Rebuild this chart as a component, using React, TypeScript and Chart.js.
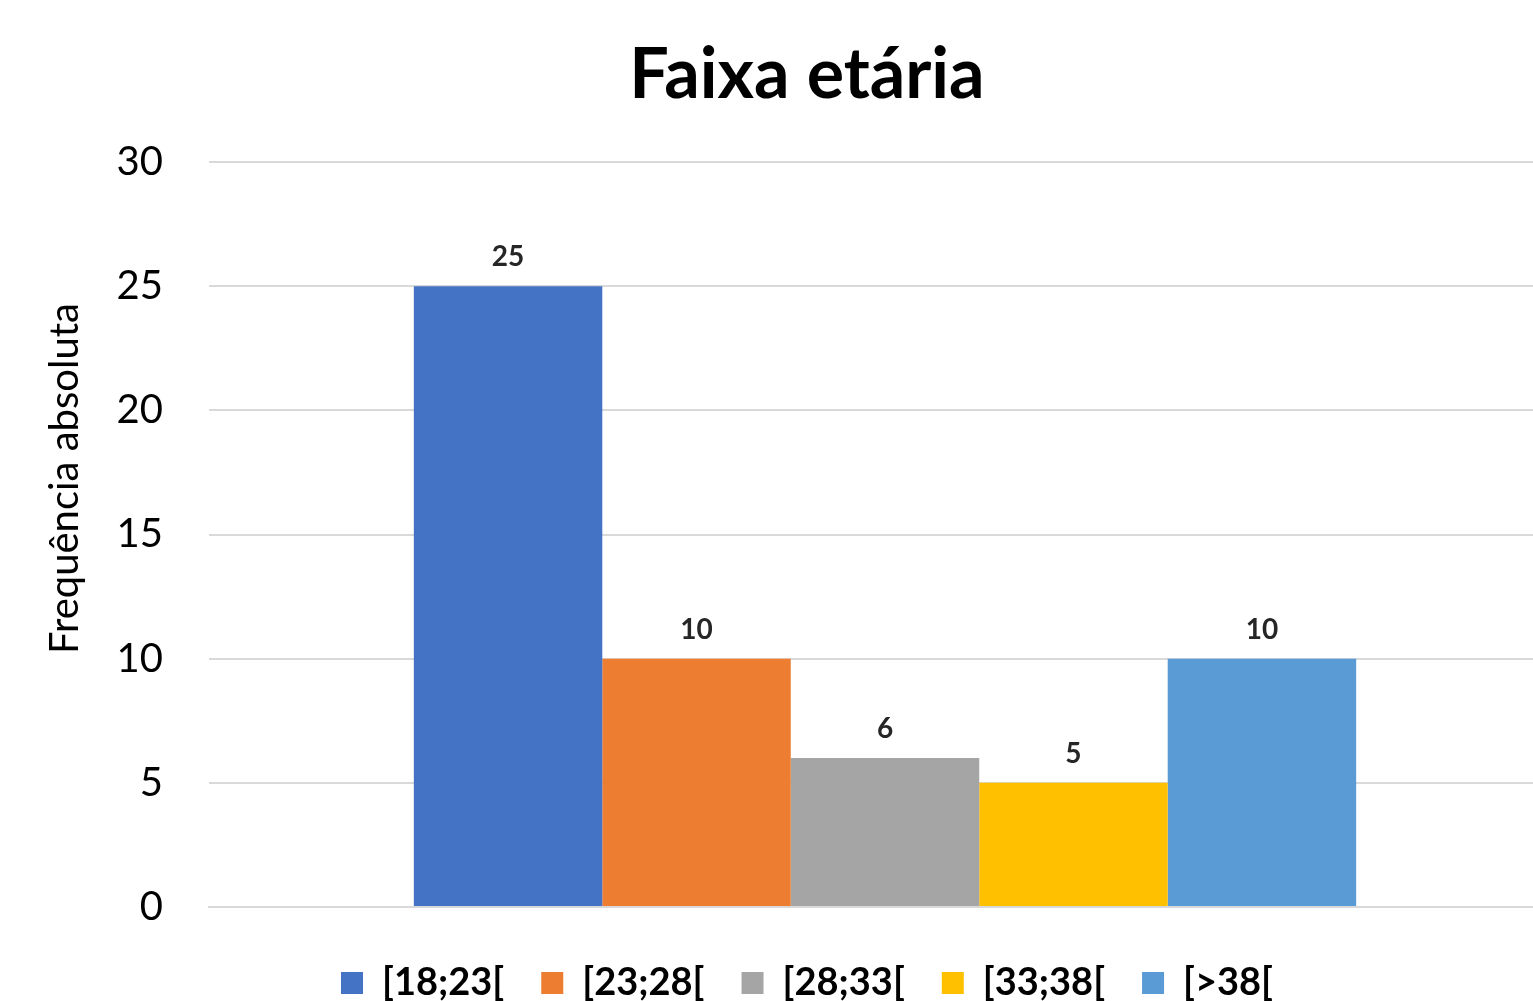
import React, { useEffect, useRef } from "react";
import { Chart, registerables } from "chart.js";

Chart.register(...registerables);

const categories = [""];
const seriesNames = ["[18;23[", "[23;28[", "[28;33[", "[33;38[", "[>38["];
const seriesValues = [25, 10, 6, 5, 10];
const seriesColors = ["#4472C4", "#ED7D31", "#A5A5A5", "#FFC000", "#5B9BD5"];
const yTicks = [0, 5, 10, 15, 20, 25, 30];
const chartTitle = "Faixa etária";
const yAxisTitle = "Frequência absoluta";

const FONT = "Lato, 'Open Sans', sans-serif";

const dataLabelPlugin = {
  id: "dataLabels",
  afterDatasetsDraw(chart: any) {
    const ctx = chart.ctx;
    ctx.save();
    ctx.font = `bold 28px ${FONT}`;
    ctx.fillStyle = "#262626";
    ctx.textAlign = "center";
    ctx.textBaseline = "alphabetic";
    chart.data.datasets.forEach((ds: any, i: number) => {
      const meta = chart.getDatasetMeta(i);
      meta.data.forEach((bar: any, j: number) => {
        ctx.fillText(String(ds.data[j]), bar.x, bar.y - 20);
      });
    });
    ctx.restore();
  },
};

const yTitlePlugin = {
  id: "yTitle",
  afterDraw(chart: any) {
    const { ctx, chartArea } = chart;
    ctx.save();
    ctx.font = `40px ${FONT}`;
    ctx.fillStyle = "#000000";
    ctx.textAlign = "center";
    ctx.textBaseline = "middle";
    ctx.translate(chartArea.left - 144, (chartArea.top + chartArea.bottom) / 2 - 56);
    ctx.rotate(-Math.PI / 2);
    ctx.fillText(yAxisTitle, 0, 0);
    ctx.restore();
  },
};

export default function App() {
  const ref = useRef<HTMLCanvasElement>(null);
  useEffect(() => {
    if (!ref.current) return;
    const chart = new Chart(ref.current, {
      type: "bar",
      data: {
        labels: categories,
        datasets: seriesNames.map((name, i) => ({
          label: name,
          data: [seriesValues[i]],
          backgroundColor: seriesColors[i],
          borderWidth: 0,
          categoryPercentage: 0.697,
          barPercentage: 1,
        })),
      },
      options: {
        animation: false,
        responsive: false,
        devicePixelRatio: 1,
        layout: { padding: { left: 53, right: 59, top: 0, bottom: -11 } },
        plugins: {
          title: {
            display: true,
            text: chartTitle,
            color: "#000000",
            font: { family: FONT, size: 70, weight: "bold" },
            padding: { top: 33, bottom: 45 },
          },
          legend: {
            display: true,
            position: "bottom",
            labels: {
              boxWidth: 22,
              boxHeight: 22,
              padding: 37,
              color: "#000000",
              font: { family: FONT, size: 38, weight: "bold" },
            },
          },
          tooltip: { enabled: false },
        },
        scales: {
          x: {
            ticks: { display: false },
            grid: { display: false, drawTicks: false },
            border: { display: true, color: "#d9d9d9", width: 2 },
            afterFit: (axis: any) => {
              axis.height = 20;
            },
          },
          y: {
            min: 0,
            max: 30,
            afterBuildTicks: (axis: any) => {
              axis.ticks = yTicks.map((v) => ({ value: v }));
            },
            afterFit: (axis: any) => {
              axis.width = 156;
            },
            ticks: {
              color: "#000000",
              padding: 46,
              font: { family: FONT, size: 40 },
            },
            grid: { color: "#d9d9d9", lineWidth: 2, drawTicks: false },
            border: { display: false },
          },
        },
      },
      plugins: [dataLabelPlugin, yTitlePlugin],
    });
    return () => chart.destroy();
  }, []);
  return (
    <div
      style={{
        position: "fixed",
        left: 0,
        top: 0,
        width: 1533,
        height: 1001,
        overflow: "hidden",
        background: "#ffffff",
      }}
    >
      <canvas ref={ref} width={1620} height={1001} style={{ display: "block" }} />
    </div>
  );
}
